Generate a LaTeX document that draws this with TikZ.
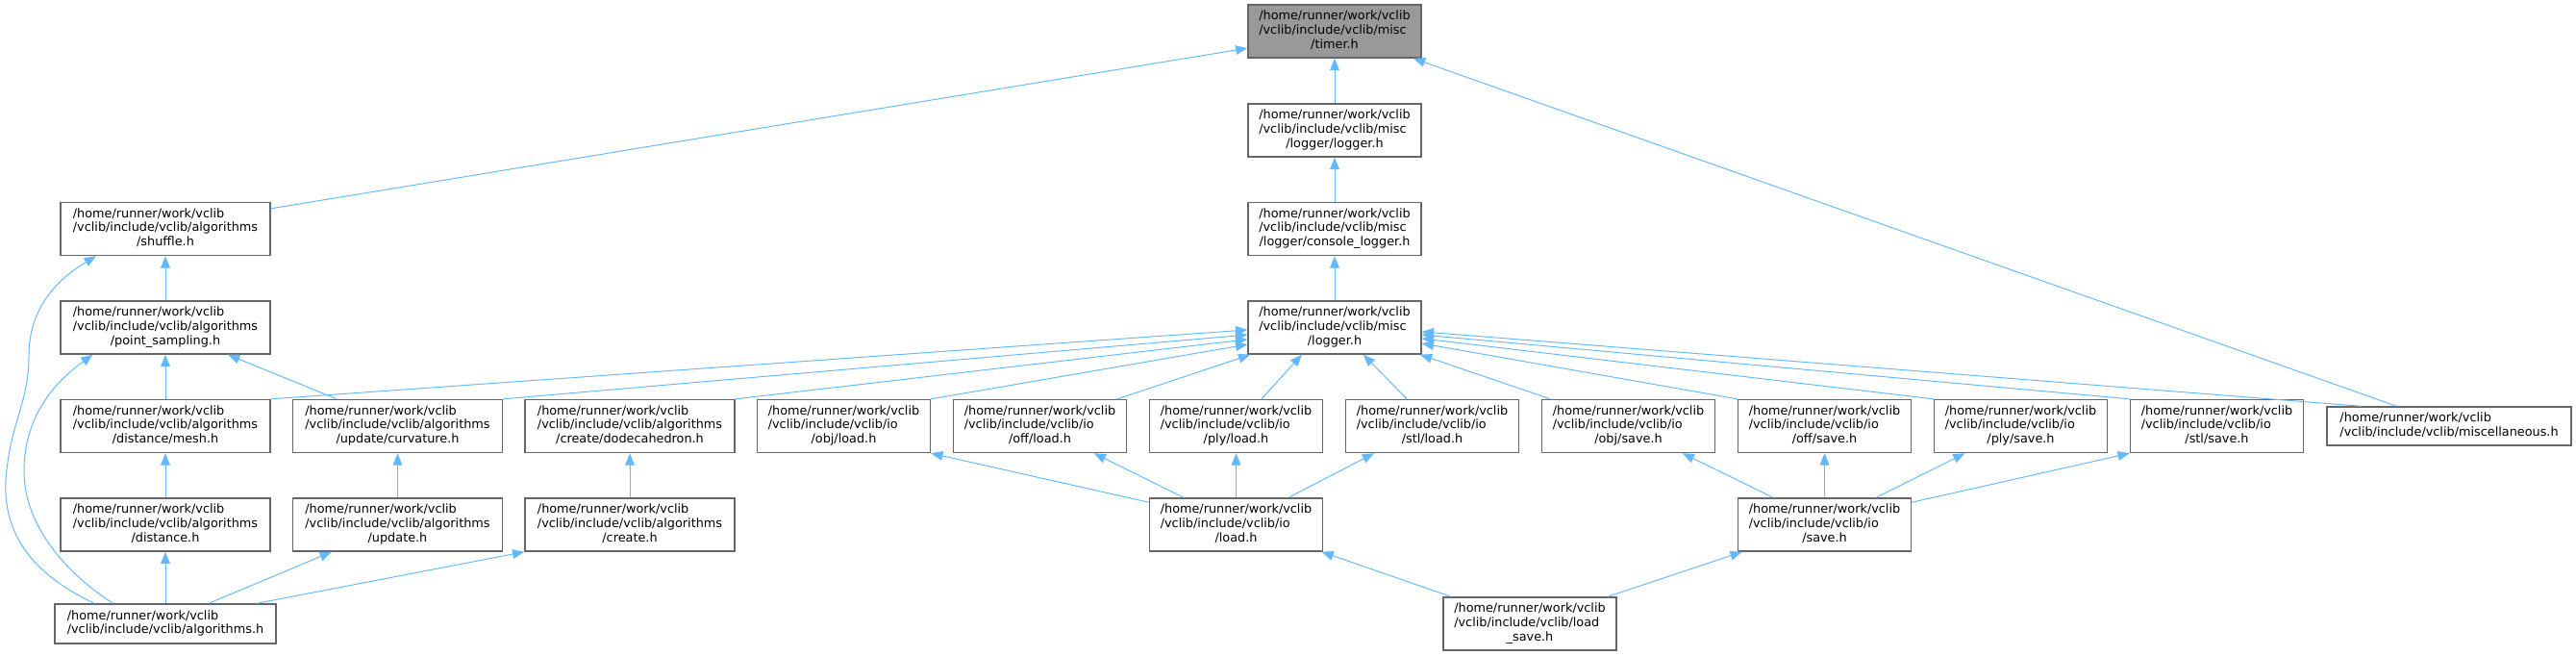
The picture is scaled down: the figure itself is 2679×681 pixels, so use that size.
\documentclass[tikz,border=0pt]{standalone}
\usepackage{fontspec}
\setmainfont{DejaVu Sans}
\usepackage{tikz}
\usetikzlibrary{arrows.meta}

\definecolor{edgeblue}{HTML}{63B8FF}
\definecolor{boxgray}{HTML}{666666}
\definecolor{rootgray}{HTML}{999999}

\newcommand{\fthree}[3]{\begin{tabular}{@{}l@{}}#1\\#2\\\multicolumn{1}{@{}c@{}}{#3}\end{tabular}}
\newcommand{\ftwo}[2]{\begin{tabular}{@{}l@{}}#1\\#2\end{tabular}}
\newcommand{\vhome}{/home/runner/work/vclib}
\newcommand{\valg}{/vclib/include/vclib/algorithms}
\newcommand{\vio}{/vclib/include/vclib/io}
\newcommand{\vmisc}{/vclib/include/vclib/misc}

\begin{document}
\begin{tikzpicture}[x=0.02cm, y=-0.02cm,
    hfile/.style={draw=boxgray, line width=0.8pt, fill=white, inner sep=0pt,
      minimum width=3.6cm, minimum height=1.1cm, font=\fontsize{7.3}{8.4}\selectfont},
    halg/.style={hfile, minimum width=4.36cm},
    hroot/.style={hfile, fill=rootgray},
    inc/.style={edgeblue, line width=0.55pt, -{Triangle[length=7pt,width=5.5pt]}}]
    \useasboundingbox (0,0) rectangle (2679,681);

    % Kopf: timer und logger-Kette
    \node[hroot] (timer) at (1388,32.5) {\fthree{\vhome}{\vmisc}{/timer.h}};
    \node[hfile] (loggerlogger) at (1388,135.5) {\fthree{\vhome}{\vmisc}{/logger/logger.h}};
    \node[hfile] (console) at (1388,238) {\fthree{\vhome}{\vmisc}{/logger/console\_logger.h}};
    \node[hfile] (logger) at (1388,340.5) {\fthree{\vhome}{\vmisc}{/logger.h}};

    % algorithms links
    \node[halg] (shuffle) at (172,238) {\fthree{\vhome}{\valg}{/shuffle.h}};
    \node[halg] (pointsampling) at (172,340.5) {\fthree{\vhome}{\valg}{/point\_sampling.h}};
    \node[halg] (distmesh) at (172,443) {\fthree{\vhome}{\valg}{/distance/mesh.h}};
    \node[halg] (curvature) at (413.5,443) {\fthree{\vhome}{\valg}{/update/curvature.h}};
    \node[halg] (dodeca) at (655,443) {\fthree{\vhome}{\valg}{/create/dodecahedron.h}};
    \node[halg] (distance) at (172,545.5) {\fthree{\vhome}{\valg}{/distance.h}};
    \node[halg] (update) at (413.5,545.5) {\fthree{\vhome}{\valg}{/update.h}};
    \node[halg] (create) at (655,545.5) {\fthree{\vhome}{\valg}{/create.h}};
    \node[hfile, minimum width=4.6cm, minimum height=0.82cm] (algorithms) at (172,648.5)
      {\ftwo{\vhome}{/vclib/include/vclib/algorithms.h}};

    % io: load / save
    \node[hfile] (objload) at (877.5,443) {\fthree{\vhome}{\vio}{/obj/load.h}};
    \node[hfile] (offload) at (1081.5,443) {\fthree{\vhome}{\vio}{/off/load.h}};
    \node[hfile] (plyload) at (1285.5,443) {\fthree{\vhome}{\vio}{/ply/load.h}};
    \node[hfile] (stlload) at (1489.5,443) {\fthree{\vhome}{\vio}{/stl/load.h}};
    \node[hfile] (objsave) at (1693.5,443) {\fthree{\vhome}{\vio}{/obj/save.h}};
    \node[hfile] (offsave) at (1897.5,443) {\fthree{\vhome}{\vio}{/off/save.h}};
    \node[hfile] (plysave) at (2101.5,443) {\fthree{\vhome}{\vio}{/ply/save.h}};
    \node[hfile] (stlsave) at (2305.5,443) {\fthree{\vhome}{\vio}{/stl/save.h}};
    \node[hfile, minimum width=5.08cm, minimum height=0.8cm] (misc) at (2547,443)
      {\ftwo{\vhome}{/vclib/include/vclib/miscellaneous.h}};
    \node[hfile] (ioload) at (1285.5,545.5) {\fthree{\vhome}{\vio}{/load.h}};
    \node[hfile] (iosave) at (1897.5,545.5) {\fthree{\vhome}{\vio}{/save.h}};
    \node[hfile] (loadsave) at (1591,648.5) {\fthree{\vhome}{/vclib/include/vclib/load}{\_save.h}};

    % Kanten zum timer
    \draw[inc] (loggerlogger) -- (timer);
    \draw[inc] ([yshift=-4pt]shuffle.north east) -- ([yshift=-10pt]timer.west);
    \draw[inc] ([xshift=-31pt]misc.north) -- ([xshift=-5pt]timer.south east);
    \draw[inc] (console) -- (loggerlogger);
    \draw[inc] (logger) -- (console);

    % Kanten zu logger.h
    \draw[inc] (distmesh.north east) -- ([yshift=-1.4pt]logger.west);
    \draw[inc] (curvature.north east) -- ([yshift=-4.3pt]logger.west);
    \draw[inc] (dodeca.north east) -- ([yshift=-7pt]logger.west);
    \draw[inc] (objload.north east) -- ([yshift=-10pt]logger.west);
    \draw[inc] ([xshift=-5.7pt]offload.north east) -- ([xshift=1.7pt]logger.south west);
    \draw[inc] ([xshift=15pt]plyload.north) -- ([xshift=-19.4pt]logger.south);
    \draw[inc] ([xshift=-15pt]stlload.north) -- ([xshift=17pt]logger.south);
    \draw[inc] ([xshift=5.4pt]objsave.north west) -- ([xshift=-1pt]logger.south east);
    \draw[inc] (offsave.north west) -- ([yshift=-9.4pt]logger.east);
    \draw[inc] (plysave.north west) -- ([yshift=-6.5pt]logger.east);
    \draw[inc] (stlsave.north west) -- ([yshift=-4.3pt]logger.east);
    \draw[inc] ([xshift=-52pt]misc.north) -- ([yshift=-2.5pt]logger.east);

    % algorithms-Kanten
    \draw[inc] (pointsampling) -- (shuffle);
    \draw[inc] (distmesh) -- (pointsampling);
    \draw[inc] ([xshift=-36pt]curvature.north) -- ([xshift=37pt]pointsampling.south);
    \draw[inc] (distance) -- (distmesh);
    \draw[inc] (update) -- (curvature);
    \draw[inc] (create) -- (dodeca);
    \draw[inc] (algorithms) -- (distance);
    \draw[inc] ([xshift=25.6pt]algorithms.north) -- ([xshift=-39pt]update.south);
    \draw[inc] ([xshift=54pt]algorithms.north) -- (create.south west);
    \draw[inc] ([xshift=-42pt]algorithms.north) .. controls (40,600) and (3,560) .. (6,500)
      .. controls (10,440) and (30,420) .. (30,370) .. controls (30,320) and (60,290) .. ([xshift=-41pt]shuffle.south);
    \draw[inc] ([xshift=-31pt]algorithms.north) .. controls (60,590) and (25,540) .. (25,490)
      .. controls (25,430) and (60,395) .. ([xshift=-43pt]pointsampling.south);

    % io-Kanten
    \draw[inc] ([yshift=-2.8pt]ioload.north west) -- (objload.south east);
    \draw[inc] ([xshift=-31pt]ioload.north) -- ([xshift=32pt]offload.south);
    \draw[inc] (ioload) -- (plyload);
    \draw[inc] ([xshift=31pt]ioload.north) -- ([xshift=-34.4pt]stlload.south);
    \draw[inc] ([xshift=-30.4pt]iosave.north) -- ([xshift=32pt]objsave.south);
    \draw[inc] (iosave) -- (offsave);
    \draw[inc] ([xshift=30.4pt]iosave.north) -- ([xshift=-33pt]plysave.south);
    \draw[inc] ([yshift=-2.8pt]iosave.north east) -- (stlsave.south west);
    \draw[inc] ([xshift=-46.7pt]loadsave.north) -- ([xshift=-1pt]ioload.south east);
    \draw[inc] ([xshift=46pt]loadsave.north) -- ([xshift=2.8pt]iosave.south west);
\end{tikzpicture}
\end{document}
